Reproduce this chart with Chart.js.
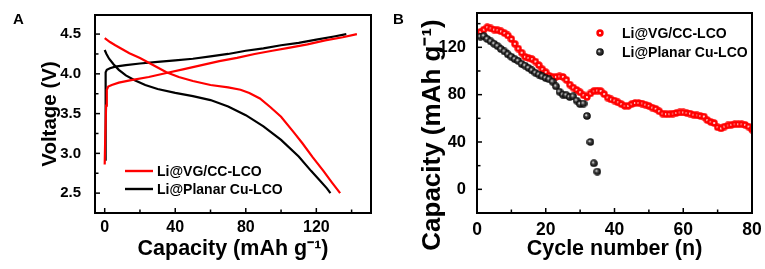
<!DOCTYPE html>
<html><head><meta charset="utf-8">
<script src="https://cdn.jsdelivr.net/npm/chart.js@4.4.1/dist/chart.umd.min.js"></script>
<style>
html,body{margin:0;padding:0;background:#fff;}
#wrap{position:relative;width:765px;height:269px;overflow:hidden;background:#fff;}
canvas{position:absolute;top:0;}
#cA{left:0;width:382px;height:269px;}
#cB{left:382px;width:383px;height:269px;}
</style></head><body>
<div id="wrap"><canvas id="cA" width="382" height="269"></canvas><canvas id="cB" width="383" height="269"></canvas></div>
<script>
// ---------- Panel A: voltage profiles ----------
const seriesNames = ['Li@VG/CC-LCO', 'Li@Planar Cu-LCO'];
const capVGCharge  = [0, 0.3, 0.8, 1.2, 2, 4, 8, 15, 25, 35, 45, 55, 65, 75, 85, 95, 105, 115, 125, 135, 143];
const voltVGCharge = [2.86, 3.2, 3.6, 3.80, 3.84, 3.86, 3.89, 3.92, 3.96, 4.01, 4.06, 4.11, 4.16, 4.20, 4.25, 4.29, 4.33, 4.37, 4.42, 4.46, 4.50];
const capVGDis  = [0, 3, 6, 10, 14, 20, 25, 30, 35, 42, 50, 60, 70, 77, 82, 88, 94, 100, 107, 112, 118, 124, 129, 133.5];
const voltVGDis = [4.45, 4.40, 4.36, 4.31, 4.26, 4.20, 4.14, 4.08, 4.02, 3.96, 3.91, 3.86, 3.83, 3.80, 3.76, 3.69, 3.58, 3.46, 3.27, 3.13, 2.95, 2.78, 2.63, 2.50];
const capCuCharge  = [0.3, 0.4, 0.5, 0.7, 1.2, 3, 6, 12, 20, 30, 40, 50, 60, 70, 80, 90, 100, 110, 120, 130, 137];
const voltCuCharge = [2.92, 3.4, 3.9, 4.02, 4.05, 4.07, 4.09, 4.11, 4.13, 4.15, 4.17, 4.19, 4.22, 4.25, 4.29, 4.32, 4.36, 4.39, 4.43, 4.47, 4.50];
const capCuDis  = [0, 1, 2.5, 5, 8, 12, 17, 23, 30, 40, 50, 60, 70, 80, 90, 100, 110, 117, 122, 126, 128];
const voltCuDis = [4.30, 4.25, 4.19, 4.12, 4.05, 3.98, 3.92, 3.86, 3.81, 3.76, 3.72, 3.67, 3.59, 3.48, 3.34, 3.17, 2.96, 2.78, 2.66, 2.56, 2.50];
const xTicksA = [0, 40, 80, 120];
const xTickLabelsA = ['0', '40', '80', '120'];
const xMinorA = [20, 60, 100, 140];
const yTicksA = [2.5, 3.0, 3.5, 4.0, 4.5];
const yTickLabelsA = ['2.5', '3.0', '3.5', '4.0', '4.5'];
const yMinorA = [2.75, 3.25, 3.75, 4.25];

// ---------- Panel B: cycling ----------
const cyclesVG = [1,2,3,4,5,6,7,8,9,10,11,12,13,14,15,16,17,18,19,20,21,22,23,24,25,26,27,28,29,30,31,32,33,34,35,36,37,38,39,40,41,42,43,44,45,46,47,48,49,50,51,52,53,54,55,56,57,58,59,60,61,62,63,64,65,66,67,68,69,70,71,72,73,74,75,76,77,78,79,80];
const capacityVG = [133,135,137,136,135,134.5,133.5,132,130,127,123,119,115.5,112,111,110,108,105,101.5,99,96,95,95,95.5,95,92.5,88.5,86,84,82,79.5,78,81,83,83.5,83,80.5,77.5,76,75,73.5,72,70.5,70.5,72,73,73,72.5,71.5,70.5,69,68,66,64,63.5,63.5,64,64.5,65,65,64.5,64,63,62.5,62,61.5,58.5,57,56,52.5,51.5,53,54,54.5,55,55,55,54.5,53,50.5];
const cyclesCu = [1,2,3,4,5,6,7,8,9,10,11,12,13,14,15,16,17,18,19,20,21,22,23,24,25,26,27,28,29,30,31,32,33,34,35];
const capacityCu = [129,129.5,127,125,123,121,118.5,116.5,114,112,110,108.5,106,104.5,102.5,100.5,98.5,97,95.5,94,93,91,87,82.5,80,79.5,78,78.5,75,72,72.5,62,40,22,15];
const xTicksB = [0, 20, 40, 60, 80];
const xTickLabelsB = ['0', '20', '40', '60', '80'];
const xMinorB = [10, 30, 50, 70];
const yTicksB = [0, 40, 80, 120];
const yTickLabelsB = ['0', '40', '80', '120'];
const yMinorB = [20, 60, 100, 140];

const RED = '#ff0000', BLACK = '#000000';
const FONT = "'Liberation Sans', Arial, Helvetica, sans-serif";
Chart.defaults.font.family = FONT;
Chart.defaults.color = '#000';

function zip(xs, ys) { return xs.map((x, i) => ({x: x, y: ys[i]})); }

function makeMarker(kind) {
  const c = document.createElement('canvas');
  c.width = 8; c.height = 8;
  const g = c.getContext('2d');
  if (kind === 'red') {
    g.fillStyle = RED; g.beginPath(); g.arc(4, 4, 3.7, 0, Math.PI * 2); g.fill();
    g.fillStyle = '#fff'; g.beginPath(); g.arc(4, 4, 1.1, 0, Math.PI * 2); g.fill();
  } else {
    const gr = g.createRadialGradient(3, 3, 0.2, 4, 4, 3.8);
    gr.addColorStop(0, '#ffffff'); gr.addColorStop(0.35, '#444'); gr.addColorStop(1, '#000');
    g.fillStyle = gr; g.beginPath(); g.arc(4, 4, 3.8, 0, Math.PI * 2); g.fill();
  }
  return c;
}
const markRed = makeMarker('red'), markBlack = makeMarker('black');

const framePlugin = {
  id: 'frame',
  afterDraw(chart, args, o) {
    const {ctx, chartArea: a, scales: {x, y}} = chart;
    ctx.save();
    ctx.strokeStyle = '#000';
    ctx.lineWidth = 1.5;
    const tx = (v, len) => { const p = x.getPixelForValue(v); ctx.beginPath(); ctx.moveTo(p, a.bottom); ctx.lineTo(p, a.bottom - len); ctx.stroke(); };
    const ty = (v, len) => { const p = y.getPixelForValue(v); ctx.beginPath(); ctx.moveTo(a.left, p); ctx.lineTo(a.left + len, p); ctx.stroke(); };
    o.xMinor.forEach(v => tx(v, 3.5));
    x.ticks.forEach(t => tx(t.value, 5));
    o.yMinor.forEach(v => ty(v, 3.5));
    y.ticks.forEach(t => ty(t.value, 5));
    ctx.lineWidth = 2;
    ctx.strokeRect(a.left, a.top, a.right - a.left, a.bottom - a.top);
    // panel letter
    ctx.fillStyle = '#000';
    ctx.font = 'bold 15px ' + FONT;
    ctx.textAlign = 'left'; ctx.textBaseline = 'middle';
    ctx.fillText(o.letter, o.letterX, 20);
    // legend
    ctx.font = 'bold 14px ' + FONT;
    o.legend.forEach(e => {
      if (e.type === 'line') {
        ctx.strokeStyle = e.color; ctx.lineWidth = 2.4;
        ctx.beginPath(); ctx.moveTo(e.x0, e.y); ctx.lineTo(e.x1, e.y); ctx.stroke();
      } else {
        ctx.drawImage(e.img, e.x0 - 4, e.y - 4, 8, 8);
      }
      ctx.fillStyle = '#000';
      ctx.fillText(e.text, e.tx, e.y + 1);
    });
    // extra title (rotated)
    if (o.yTitle) {
      ctx.save();
      ctx.translate(o.yTitle.x, o.yTitle.y);
      ctx.rotate(-Math.PI / 2);
      ctx.font = o.yTitle.font;
      ctx.textAlign = 'center'; ctx.textBaseline = 'middle';
      ctx.fillText(o.yTitle.text, 0, 0);
      ctx.restore();
    }
    ctx.restore();
  }
};

function setTicks(values) { return s => { s.ticks = values.map(v => ({value: v})); }; }

const lineDs = (label, data, color) => ({label, data, borderColor: color, backgroundColor: color, showLine: true, borderWidth: 2.2, pointRadius: 0, tension: 0, fill: false});

new Chart(document.getElementById('cA'), {
  type: 'scatter',
  data: {datasets: [
    lineDs(seriesNames[0], zip(capVGCharge, voltVGCharge), RED),
    lineDs(seriesNames[0], zip(capVGDis, voltVGDis), RED),
    lineDs(seriesNames[1], zip(capCuCharge, voltCuCharge), BLACK),
    lineDs(seriesNames[1], zip(capCuDis, voltCuDis), BLACK)
  ]},
  options: {
    responsive: false, animation: false, devicePixelRatio: 1,
    layout: {padding: {left: 0, right: 11, top: 13, bottom: 0}},
    plugins: {
      legend: {display: false}, tooltip: {enabled: false},
      frame: {
        letter: 'A', letterX: 13,
        xMinor: xMinorA, yMinor: yMinorA,
        legend: [
          {type: 'line', color: RED, x0: 125, x1: 153, y: 171, tx: 157, text: seriesNames[0]},
          {type: 'line', color: BLACK, x0: 125, x1: 153, y: 189, tx: 157, text: seriesNames[1]}
        ]
      }
    },
    scales: {
      x: {
        type: 'linear', min: -5.5, max: 151,
        afterFit: s => { s.height = 56; },
        afterBuildTicks: setTicks(xTicksA),
        grid: {display: false}, border: {display: false},
        ticks: {font: {size: 16, weight: 'bold'}, color: '#000', padding: -3, maxRotation: 0,
                callback: (v, i) => xTickLabelsA[i]},
        title: {display: true, text: 'Capacity (mAh g\u207B\u00B9)', color: '#000',
                font: {size: 21.5, weight: 'bold'}, padding: {top: 0, bottom: 7}}
      },
      y: {
        type: 'linear', min: 2.25, max: 4.74,
        afterFit: s => { s.width = 95; },
        afterBuildTicks: setTicks(yTicksA),
        grid: {display: false}, border: {display: false},
        ticks: {font: {size: 15, weight: 'bold'}, color: '#000', padding: 6,
                callback: (v, i) => yTickLabelsA[i]},
        title: {display: true, text: 'Voltage (V)', color: '#000',
                font: {size: 20.5, weight: 'bold'}, padding: {top: 38, bottom: 0}}
      }
    }
  },
  plugins: [framePlugin]
});

new Chart(document.getElementById('cB'), {
  type: 'scatter',
  data: {datasets: [
    {label: seriesNames[0], data: zip(cyclesVG, capacityVG), pointStyle: markRed, pointRadius: 4, showLine: false, order: 2},
    {label: seriesNames[1], data: zip(cyclesCu, capacityCu), pointStyle: markBlack, pointRadius: 4, showLine: false, order: 1}
  ]},
  options: {
    responsive: false, animation: false, devicePixelRatio: 1,
    layout: {padding: {left: 0, right: 13, top: 13, bottom: 0}},
    plugins: {
      legend: {display: false}, tooltip: {enabled: false},
      frame: {
        letter: 'B', letterX: 11,
        xMinor: xMinorB, yMinor: yMinorB,
        legend: [
          {type: 'point', img: markRed, x0: 218, y: 33, tx: 240, text: seriesNames[0]},
          {type: 'point', img: markBlack, x0: 218, y: 52, tx: 240, text: seriesNames[1]}
        ],
        yTitle: {text: 'Capacity (mAh g\u207B\u00B9)', x: 51, y: 135, font: 'bold 26px ' + FONT}
      }
    },
    scales: {
      x: {
        type: 'linear', min: 0, max: 80,
        afterFit: s => { s.height = 56; },
        afterBuildTicks: setTicks(xTicksB),
        grid: {display: false}, border: {display: false},
        ticks: {font: {size: 17.5, weight: 'bold'}, color: '#000', padding: -1, maxRotation: 0,
                callback: (v, i) => xTickLabelsB[i]},
        title: {display: true, text: 'Cycle number (n)', color: '#000',
                font: {size: 21.5, weight: 'bold'}, padding: {top: 0, bottom: 7}}
      },
      y: {
        type: 'linear', min: -20, max: 149,
        afterFit: s => { s.width = 95; },
        afterBuildTicks: setTicks(yTicksB),
        grid: {display: false}, border: {display: false},
        ticks: {font: {size: 16.5, weight: 'bold'}, color: '#000', padding: 3,
                callback: (v, i) => yTickLabelsB[i]},
        title: {display: false}
      }
    }
  },
  plugins: [framePlugin]
});
</script>
</body></html>
